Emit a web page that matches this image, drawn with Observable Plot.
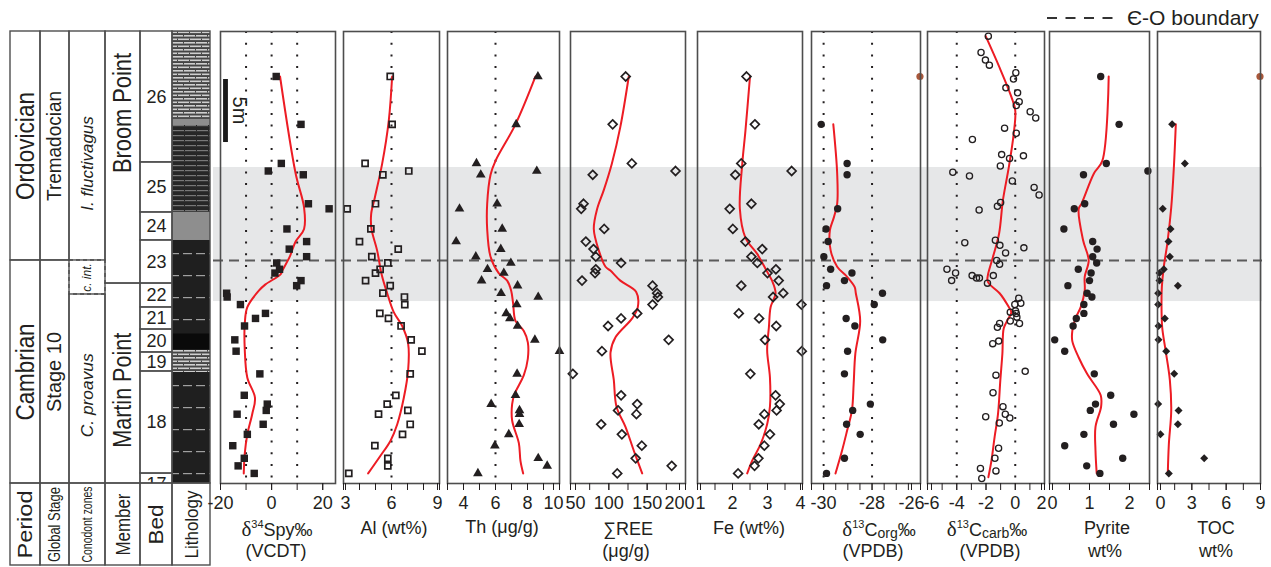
<!DOCTYPE html>
<html>
<head>
<meta charset="utf-8">
<script src="https://cdn.jsdelivr.net/npm/d3@7"></script>
<script src="https://cdn.jsdelivr.net/npm/@observablehq/plot@0.6"></script>
<style>
html,body{margin:0;padding:0;background:#fff;overflow:hidden;}
#chart{position:relative;width:1271px;height:567px;font-family:"Liberation Sans",Arial,Helvetica,sans-serif;color:#231f20;}
#chart > svg{position:absolute;left:0;top:0;}
.lab{position:absolute;transform:translate(-50%,-50%);font-size:18px;line-height:1;white-space:nowrap;}
.lab sup{font-size:11px;vertical-align:0;position:relative;top:-8px;}
.lab sub{font-size:14px;vertical-align:0;position:relative;top:2px;}
.dl{font-family:"Liberation Serif","Times New Roman",serif;font-size:21px;}
#legend{position:absolute;left:1045px;top:6px;height:24px;white-space:nowrap;}
#legend span{position:absolute;left:82px;top:0;font-size:21px;line-height:24px;}
</style>
</head>
<body>
<svg width="0" height="0" style="position:absolute">
<defs>
<pattern id="limestone" width="12" height="7" patternUnits="userSpaceOnUse">
<rect width="12" height="7" fill="#454545"/>
<rect y="0" width="12" height="1.6" fill="#cfcfcf"/>
<rect y="3.5" width="12" height="1.6" fill="#cfcfcf"/>
<rect x="3" y="0" width="1" height="1.6" fill="#454545"/>
<rect x="9" y="3.5" width="1" height="1.6" fill="#454545"/>
</pattern>
<pattern id="darkLimestone" width="12" height="5" patternUnits="userSpaceOnUse">
<rect width="12" height="5" fill="#262626"/>
<rect y="0" width="12" height="1.2" fill="#777"/>
<rect x="4" y="0" width="1" height="1.2" fill="#262626"/>
</pattern>
<pattern id="shale" width="13" height="22" patternUnits="userSpaceOnUse">
<rect width="13" height="22" fill="#1f1f1f"/>
<rect x="1" y="11" width="9" height="1.2" fill="#a0a0a0"/>
</pattern>
</defs>
</svg>
<div id="chart">
  <div id="legend"><svg width="72" height="24"><line x1="2" x2="70" y1="12" y2="12" stroke="#333" stroke-width="2" stroke-dasharray="10,8.5"/></svg><span>Є-O boundary</span></div>
</div>
<script>
// ---------------- DATA ----------------
const H = 35.87; // section top (m above base of plotted interval)
const grayBand = [{base: 14.44, top: 25.08}];
const boundaryCO = [17.7];

// sample heights (m) shared by most proxies
const levels = [32.3, 28.5, 25.4, 24.8, 24.5, 22.2, 21.8, 20.2, 19.2, 18.6, 18.0, 17.5, 17.0, 16.7, 16.1, 15.7, 15.1, 14.8, 14.2, 13.5, 13.1, 12.5, 11.4, 10.5, 8.7, 7.0, 6.3, 5.8, 5.5, 4.7, 3.9, 3.0, 2.0, 1.4, 0.8];
const d34S = [1.8, 11.5, 3.8, -1.3, 12.4, 14.4, 22.5, 6.0, 13.7, 6.9, 13.7, 2.0, 3.1, 1.3, 11.5, 9.8, -17.6, -17.4, -12.2, -2.4, -6.3, -10.6, -14.4, -13.9, -4.6, -10.7, -1.7, -2.1, -13.5, -3.3, -9.5, -15.2, -10.7, -13.1, -6.8];
const al = [5.92, 6.04, 4.35, 7.08, 5.46, 5.0, 3.23, 4.71, 4.0, 6.42, 4.77, 5.77, 5.29, 5.0, 4.38, 5.92, 5.46, 6.81, 6.83, 5.27, 5.81, 6.6, 7.23, 7.9, 7.17, 6.27, 5.73, 7.02, 5.19, 7.17, 6.69, 4.96, 5.77, 5.77, 3.33];
const th = [8.65, 7.29, 4.81, 8.58, 5.08, 6.1, 3.75, 6.42, 3.54, 6.33, 4.77, 6.96, 5.5, 6.52, 5.13, 7.38, 6.35, 8.67, 7.33, 6.67, 6.9, 7.38, 8.46, 10.0, 7.35, 7.25, 5.73, 7.5, 7.5, 7.48, 6.83, 5.96, 8.67, 9.23, 4.9];
const ree = [122, 105, 130, 187, 79, 67, 64, 94, 70, 80, 83, 116, 83, 82, 65, 157, 163, 164, 157, 137, 116, 99, 178, 91, 53, 116, 137, 112, 136, 90, 117, 143, 135, 182, 111];
const fe = [2.4, 2.64, 2.25, 3.69, 2.08, 2.54, 1.92, 2.01, 2.37, 2.85, 2.54, 2.71, 3.24, 3.0, 3.32, 2.25, 3.45, 3.16, 3.97, 2.18, 2.76, 3.25, 2.93, 3.98, 2.51, 3.23, 3.35, 3.26, 2.91, 2.75, 3.07, 2.91, 2.74, 2.63, 2.16];
const corg = [null, -30.1, -29.03, null, -29.03, null, -29.42, -29.9, -29.81, null, -29.99, null, -29.71, -28.83, -29.14, -29.88, -27.57, null, -27.91, null, -29.07, -28.71, -27.56, -29.01, -29.14, null, -28.07, -28.8, null, -29.05, -28.49, null, -29.14, null, -29.88];
const pyrite = [1.28, 1.74, 1.42, 2.46, 0.85, 0.88, 0.62, 0.36, 1.08, 1.19, 1.08, 1.18, 0.72, 1.04, 1.0, 0.46, 0.94, 1.06, 0.86, 0.86, 0.67, 0.59, 0.13, 0.38, 1.12, 1.53, 1.15, 1.02, 2.11, 1.6, 0.86, 0.38, 1.83, 0.93, 1.26];
const toc = [null, 1.28, 2.39, null, null, null, 0.46, 1.14, 0.96, null, 1.08, null, 0.55, 0.17, 0.17, 1.78, 0.06, null, 0.06, null, 0.64, 0.09, 0.09, 0.76, 1.46, null, 0.06, 1.84, null, 1.78, 0.26, null, 4.08, null, 0.99];

// δ13Ccarb has its own denser sampling
const carbH = [35.5, 34.2, 33.6, 33.2, 32.6, 32.1, 31.4, 31.0, 30.3, 30.0, 29.5, 29.0, 28.2, 27.8, 27.3, 26.1, 26.0, 25.8, 25.2, 24.7, 24.4, 24.0, 23.5, 22.9, 22.3, 22.0, 21.7, 19.3, 19.1, 18.9, 18.7, 18.3, 17.7, 17.4, 17.0, 16.7, 16.5, 16.3, 16.3, 16.5, 16.1, 15.9, 14.7, 14.3, 14.2, 13.7, 13.6, 13.5, 13.2, 12.9, 12.7, 12.7, 12.4, 11.3, 11.1, 8.9, 8.6, 7.2, 6.1, 5.5, 5.3, 5.2, 4.8, 2.8, 2.0, 1.2, 1.0, 0.4];
const carbV = [-1.84, -2.34, -2.04, -1.77, 0.04, -0.12, -0.64, 0.16, 0.27, 0.07, 1.02, 1.4, -0.73, 0.07, -2.93, -0.93, 0.56, -0.39, -1.02, -4.27, -3.13, -0.2, 1.29, 1.63, -1.0, -1.22, -2.47, -1.36, -3.45, -1.05, 0.59, -0.66, -1.27, -1.07, -4.67, -4.08, -2.95, -2.65, -2.45, -1.5, -4.35, -1.9, 0.24, 0.38, -0.03, 0.02, -0.34, 0.07, 0.11, -0.34, 0.29, -1.07, -1.22, -1.13, -1.54, 0.68, -1.32, -1.52, -0.84, -0.68, -2.02, -0.37, -1.09, -1.14, -1.39, -2.38, -1.32, -2.29];

// smoothed trends [height, value]
const d34SFit = [[32.3,3.3],[24.6,9.4],[21.9,12.7],[20.2,12.7],[19.2,9.4],[18.0,7.1],[16.9,4.2],[16.6,3.5],[15.8,-2.4],[15.3,-5.0],[14.0,-9.5],[12.7,-10.5],[10.6,-10.5],[8.4,-9.5],[6.8,-6.5],[5.5,-7.6],[3.9,-9.5],[2.4,-10.5],[0.8,-10.9]];
const alFit = [[32.3,6.04],[28.8,5.83],[25.4,5.42],[22.7,4.96],[21.4,4.73],[20.2,4.75],[18.5,5.1],[16.5,5.4],[15.1,5.73],[13.6,6.14],[12.5,6.67],[11.1,7.04],[9.0,7.04],[6.8,6.77],[4.7,6.36],[3.4,5.94],[2.2,5.31],[0.8,4.54]];
const thFit = [[32.3,8.5],[28.5,7.25],[25.6,6.0],[24.5,5.69],[22.2,5.48],[20.2,5.48],[18.0,5.69],[16.7,6.2],[16.1,6.73],[15.3,6.98],[14.3,7.1],[12.9,7.25],[12.1,7.77],[11.2,8.02],[9.9,8.02],[8.6,7.77],[7.1,7.19],[6.3,7.04],[5.0,7.04],[3.2,7.46],[1.8,7.56],[0.8,7.73]];
const reeFit = [[32.3,126],[28.3,115],[25.4,104],[23.3,93.5],[21.8,84.8],[20.2,80.4],[18.5,86.9],[17.2,95.7],[16.9,102],[16.1,115],[15.2,135.7],[14.0,137.8],[13.1,130.4],[11.6,108.7],[10.4,102.2],[8.2,106.5],[6.1,110],[4.5,121.7],[2.6,132.6],[0.8,143.5]];
const feFit = [[32.3,2.5],[28.0,2.37],[25.4,2.28],[21.8,2.21],[19.5,2.37],[18.2,2.71],[16.9,2.97],[16.1,3.13],[15.1,3.23],[14.0,3.09],[12.4,3.04],[10.6,2.99],[8.4,3.07],[6.1,3.07],[4.7,2.99],[3.1,2.8],[1.8,2.56],[0.8,2.42]];
const corgFit = [[28.5,-29.6],[24.6,-29.44],[22.2,-29.44],[21.1,-29.58],[20.1,-29.74],[18.5,-29.71],[17.2,-29.44],[16.4,-29.03],[15.6,-28.72],[15.1,-28.67],[12.9,-28.49],[10.3,-28.69],[7.9,-28.76],[5.8,-28.83],[4.2,-29.03],[2.6,-29.24],[0.8,-29.51]];
const carbFit = [[35.5,-2.02],[33.0,-1.07],[30.7,-0.27],[29.6,0],[27.8,-0.1],[25.1,-0.44],[22.5,-0.84],[19.8,-1.11],[18.0,-1.52],[16.6,-1.86],[16.1,-1.9],[15.8,-1.75],[15.1,-1.07],[14.0,-0.44],[13.6,-0.27],[12.9,-0.56],[12.3,-0.79],[10.3,-0.88],[8.2,-1.02],[5.5,-1.18],[3.7,-1.41],[1.8,-1.63],[0.5,-1.84]];
const pyriteFit = [[32.3,1.48],[25.6,1.32],[24.6,1.11],[22.2,0.8],[21.8,0.73],[19.3,0.84],[17.7,0.98],[16.4,0.88],[15.3,0.88],[14.0,0.78],[13.1,0.65],[12.1,0.57],[11.3,0.57],[10.0,0.73],[8.7,0.94],[7.0,1.28],[6.1,1.29],[4.5,1.15],[2.6,1.15],[0.8,1.18]];
const tocFit = [[28.5,1.6],[25.1,1.43],[21.9,1.2],[19.0,0.85],[17.2,0.55],[15.6,0.38],[14.3,0.35],[12.4,0.41],[10.6,0.7],[8.2,1.08],[5.8,1.2],[3.1,0.99],[0.8,0.9]];
const edgeMarks = [32.3];
const scaleBar = [{base: 27.06, top: 32.06, label: "5m", labelAt: 29.6}];

// axis ticks
const d34STicks = [-20, 0, 20], d34SMinor = [-20, -10, 0, 10, 20];
const alTicks = [3, 6, 9], alMinor = [3, 4, 5, 6, 7, 8, 9];
const thTicks = [4, 6, 8, 10], thMinor = [3, 4, 5, 6, 7, 8, 9, 10];
const reeTicks = [50, 100, 150, 200], reeMinor = [50, 75, 100, 125, 150, 175, 200];
const feTicks = [1, 2, 3, 4], feMinor = [1, 1.5, 2, 2.5, 3, 3.5, 4];
const corgTicks = [-30, -28, -26], corgMinor = [-30.5, -30, -29.5, -29, -28.5, -28, -27.5, -27, -26.5, -26];
const carbTicks = [-6, -4, -2, 0, 2], carbMinor = [-6, -5, -4, -3, -2, -1, 0, 1, 2];
const pyriteTicks = [0, 1, 2], pyriteMinor = [0, 0.5, 1, 1.5, 2, 2.5];
const tocTicks = [0, 3, 6, 9], tocMinor = [0, 1.5, 3, 4.5, 6, 7.5, 9];

// stratigraphy: [label, base, top, labelAt?]
const periods = [["Ordovician", 17.7, H], ["Cambrian", 0, 17.7]];
const stages = [["Tremadocian", 17.7, H], ["Stage 10", 0, 17.7]];
const conodonts = [["I. fluctivagus", 17.7, H, 25.4], ["C. proavus", 0, 15.0, 7.0]];
const conodontInt = [["c. int.", 15.0, 17.7]];
const members = [["Broom Point", 15.87, H, 29.4], ["Martin Point", 0, 15.87, 7.4]];
const beds = [["26", 25.48, H], ["25", 21.51, 25.48], ["24", 19.29, 21.51], ["23", 15.87, 19.29], ["22", 13.97, 15.87], ["21", 12.22, 13.97], ["20", 10.4, 12.22], ["19", 8.89, 10.4], ["18", 0.79, 8.89], ["17", 0, 0.79, -0.05]];
const lithology = [["limestone", 28.89, H], ["grey", 28.41, 28.89], ["darkLimestone", 21.51, 28.41], ["grey", 19.29, 21.51], ["shale", 11.9, 19.29], ["black", 10.56, 11.9], ["limestone", 8.81, 10.56], ["shale", 0, 8.81]];
const headers = ["Period", "Global Stage", "Conodont zones", "Member", "Bed", "Lithology"];

// ---------------- STYLE / LAYOUT ----------------
const INK = "#231f20", RED = "#ed1c24", LINE = "#4d4d4d";
const litFill = {limestone: "url(#limestone)", darkLimestone: "url(#darkLimestone)", shale: "url(#shale)", grey: "#8e8e8e", black: "#0a0a0a"};
const colEdges = [10, 40, 69, 105, 140, 172, 210]; // column layout (px)
const headerFont = [21, 16, 15, 21, 21, 19];
const fitLen = {"Ordovician":108, "Cambrian":97, "Tremadocian":110, "Stage 10":80, "C. proavus":84, "Broom Point":120, "Martin Point":115,
  "Period":68, "Global Stage":75, "Conodont zones":76, "Member":62, "Bed":40, "Lithology":68};
const baseStyle = {background: "none", fontFamily: '"Liberation Sans", Arial, sans-serif', fontSize: "18px", color: INK, overflow: "visible"};
const chart = document.getElementById("chart");
const legendEl = document.getElementById("legend");
function add(svg) { chart.insertBefore(svg, legendEl); return svg; }
function fit(svg) {
  d3.select(svg).selectAll("text").each(function() {
    const L = fitLen[this.textContent];
    if (L) { this.setAttribute("textLength", L); this.setAttribute("lengthAdjust", "spacingAndGlyphs"); }
  });
  return svg;
}

// background: grey interval + boundary line
add(Plot.plot({
  width: 1271, height: 567, marginTop: 31, marginBottom: 84, marginLeft: 213, marginRight: 9,
  x: {domain: [0, 1], axis: null}, y: {domain: [0, H], axis: null}, style: baseStyle,
  marks: [
    Plot.rect(grayBand, {y1: "base", y2: "top", fill: "#e6e7e8"}),
    Plot.ruleY(boundaryCO, {stroke: "#5b5b5b", strokeWidth: 2, strokeDasharray: "10,6"})
  ]
}));

// stratigraphic column
const cx1 = c => () => colEdges[c], cx2 = c => () => colEdges[c + 1], cmid = c => () => (colEdges[c] + colEdges[c + 1]) / 2;
const unitRect = (data, c, extra = {}) => Plot.rect(data, {x1: cx1(c), x2: cx2(c), y1: d => d[1], y2: d => d[2], fill: "none", stroke: LINE, strokeWidth: 1.4, ...extra});
const unitText = (data, c, extra = {}) => Plot.text(data, {x: cmid(c), y: d => d[3] ?? (d[1] + d[2]) / 2, text: d => d[0], fill: INK, ...extra});
add(fit(Plot.plot({
  width: 1271, height: 567, marginTop: 31, marginBottom: 84, marginLeft: 10, marginRight: 1061,
  x: {domain: [colEdges[0], colEdges[6]], axis: null},
  y: {domain: [0, H], axis: null},
  color: {type: "identity"},
  style: baseStyle,
  marks: [
    Plot.rect(lithology, {x1: cx1(5), x2: cx2(5), y1: d => d[1], y2: d => d[2], fill: d => litFill[d[0]]}),
    unitRect(periods, 0), unitRect(stages, 1), unitRect(conodonts, 2),
    unitRect(conodontInt, 2, {strokeDasharray: "4,3"}),
    unitRect(members, 3), unitRect(beds, 4),
    Plot.rect([H], {x1: cx1(5), x2: cx2(5), y1: () => 0, y2: d => d, fill: "none", stroke: LINE, strokeWidth: 1.4}),
    unitText(periods, 0, {rotate: -90, fontSize: 25}),
    unitText(stages, 1, {rotate: -90, fontSize: 20}),
    unitText(conodonts, 2, {rotate: -90, fontSize: 17, fontStyle: "italic"}),
    unitText(conodontInt, 2, {rotate: -90, fontSize: 12, fontStyle: "italic"}),
    unitText(members, 3, {rotate: -90, fontSize: 26}),
    unitText(beds, 4, {fontSize: 18, clip: true})
  ]
})));

// column headers
add(fit(Plot.plot({
  width: 1271, height: 567, marginTop: 483, marginBottom: 2, marginLeft: 10, marginRight: 1061,
  x: {domain: [colEdges[0], colEdges[6]], axis: null},
  y: {domain: [0, 1], axis: null},
  style: baseStyle,
  marks: [
    Plot.rect(headers, {x1: (d, i) => colEdges[i], x2: (d, i) => colEdges[i + 1], y1: () => 0, y2: () => 1, fill: "none", stroke: LINE, strokeWidth: 1.4}),
    Plot.text(headers, {x: (d, i) => (colEdges[i] + colEdges[i + 1]) / 2, y: () => 0.5, text: d => d, rotate: -90, fontSize: (d, i) => headerFont[i], fill: INK})
  ]
})));

// proxy panels (nudge: [value, dx] for tick labels at the frame edges)
const zip = (vals) => levels.map((h, i) => [h, vals[i]]).filter(d => d[1] != null);
const panels = [
  {L: 220, R: 335, domain: [-20, 25], major: d34STicks, minor: d34SMinor, dotted: [-10, 0, 10], pts: zip(d34S), fitLine: d34SFit,
   sym: {symbol: "square", r: 4.2, fill: INK}, nudge: []},
  {L: 343, R: 439, domain: [3, 9], major: alTicks, minor: alMinor, dotted: [6], pts: zip(al), fitLine: alFit,
   sym: {symbol: "square", r: 3.4, fill: "none", stroke: INK, strokeWidth: 1.7}, nudge: [[3, 2], [9, -2]]},
  {L: 447, R: 559, domain: [3, 10], major: thTicks, minor: thMinor, dotted: [6], pts: zip(th), fitLine: thFit,
   sym: {symbol: "triangle", r: 3.6, fill: INK}, nudge: [[10, -6]]},
  {L: 570, R: 685, domain: [50, 200], major: reeTicks, minor: reeMinor, dotted: [], pts: zip(ree), fitLine: reeFit,
   sym: {symbol: "diamond2", r: 4, fill: "none", stroke: INK, strokeWidth: 1.7}, nudge: [[50, 5], [200, -6]]},
  {L: 697, R: 802, domain: [1, 4], major: feTicks, minor: feMinor, dotted: [], pts: zip(fe), fitLine: feFit,
   sym: {symbol: "diamond2", r: 4, fill: "none", stroke: INK, strokeWidth: 1.7}, nudge: [[1, 3], [4, -2]]},
  {L: 811, R: 920, domain: [-30.5, -26], major: corgTicks, minor: corgMinor, dotted: [-30, -28], pts: zip(corg), fitLine: corgFit,
   sym: {symbol: "circle", r: 3.7, fill: INK}, edge: true, nudge: [[-26, -9]]},
  {L: 927, R: 1044, domain: [-6, 2], major: carbTicks, minor: carbMinor, dotted: [-4, 0], pts: carbH.map((h, i) => [h, carbV[i]]), fitLine: carbFit,
   sym: {symbol: "circle", r: 3.1, fill: "none", stroke: INK, strokeWidth: 1.3}, nudge: [[-6, 4], [2, -3]]},
  {L: 1049, R: 1149, domain: [0, 2.5], major: pyriteTicks, minor: pyriteMinor, dotted: [], pts: zip(pyrite), fitLine: pyriteFit,
   sym: {symbol: "circle", r: 3.7, fill: INK}, nudge: [[0, 3]]},
  {L: 1157, R: 1260, domain: [0, 9], major: tocTicks, minor: tocMinor, dotted: [], pts: zip(toc), fitLine: tocFit,
   sym: {symbol: "diamond2", r: 3.6, fill: INK}, edge: true, nudge: [[0, 3]]}
];

panels.forEach((p, k) => {
  const marks = [];
  if (p.dotted.length) marks.push(Plot.ruleX(p.dotted, {stroke: INK, strokeWidth: 2, strokeDasharray: "2,9.7"}));
  if (k === 0) {
    marks.push(Plot.rect(scaleBar, {x1: () => -18.8, x2: () => -16.9, y1: "base", y2: "top", fill: "#1a1a1a"}));
    marks.push(Plot.text(scaleBar, {x: () => -12.7, y: "labelAt", text: "label", rotate: 90, fontSize: 20, fill: INK}));
  }
  marks.push(Plot.line(p.fitLine, {x: d => d[1], y: d => d[0], stroke: RED, strokeWidth: 2, curve: "catmull-rom"}));
  marks.push(Plot.dot(p.pts, {x: d => d[1], y: d => d[0], ...p.sym}));
  if (p.edge) marks.push(Plot.dot(edgeMarks, {x: () => p.domain[1] - (p.domain[1] - p.domain[0]) * 0.005, y: d => d, r: 3.6, fill: "#a9573a"}));
  marks.push(Plot.frame({stroke: LINE, strokeWidth: 1.6}));
  marks.push(Plot.axisX({ticks: p.minor, tickSize: 7, tickFormat: () => ""}));
  const nudged = new Map(p.nudge);
  const plain = p.major.filter(v => !nudged.has(v));
  marks.push(Plot.axisX({ticks: plain, tickSize: 7, tickPadding: 6, tickFormat: d => String(d), fontSize: 18}));
  p.nudge.forEach(([v, dx]) => marks.push(Plot.axisX({ticks: [v], tickSize: 7, tickPadding: 6, tickFormat: d => String(d), fontSize: 18, dx})));
  add(Plot.plot({
    width: 1271, height: 567, marginTop: 31, marginBottom: 84, marginLeft: p.L, marginRight: 1271 - p.R,
    x: {domain: p.domain}, y: {domain: [0, H], axis: null},
    style: baseStyle, marks
  }));
});

// axis titles
const titles = [
  ['<span class="dl">δ</span><sup>34</sup>Spy‰', 277, 529], ['(VCDT)', 276, 551],
  ['Al (wt%)', 394, 528], ['Th (μg/g)', 502, 527],
  ['∑REE', 628, 529], ['(μg/g)', 626, 551],
  ['Fe (wt%)', 749, 528],
  ['<span class="dl">δ</span><sup>13</sup>C<sub>org</sub>‰', 879, 529], ['(VPDB)', 873, 551],
  ['<span class="dl">δ</span><sup>13</sup>C<sub>carb</sub>‰', 987, 529], ['(VPDB)', 990, 551],
  ['Pyrite', 1107, 528], ['wt%', 1105, 551],
  ['TOC', 1216, 528], ['wt%', 1216, 551]
];
titles.forEach(([html, x, y]) => {
  const d = document.createElement("div");
  d.className = "lab"; d.innerHTML = html;
  d.style.left = x + "px"; d.style.top = y + "px";
  chart.appendChild(d);
});
</script>
</body>
</html>
